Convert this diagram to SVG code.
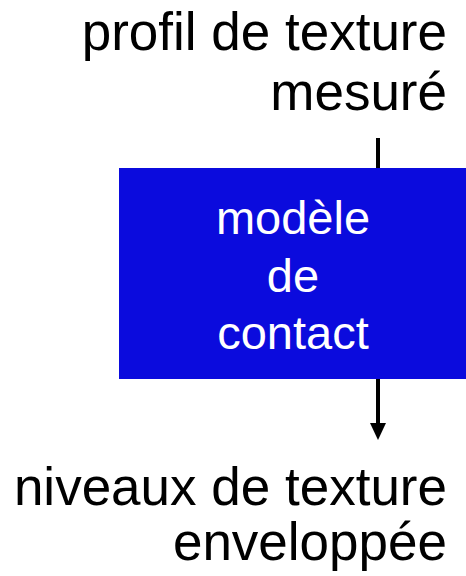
<svg xmlns="http://www.w3.org/2000/svg" width="466" height="576" viewBox="0 0 466 576">
<defs>
<style>
.t{font-family:"Liberation Sans",Arial,sans-serif;font-size:53px;fill:#000}
.b{font-family:"Liberation Sans",Arial,sans-serif;font-size:47px;fill:#fff;text-anchor:middle}
.c{stroke:#000;stroke-width:4;fill:none}
</style>
</defs>
<rect width="466" height="576" fill="#fff"/>
<g id="input">
<text class="t" x="447" y="50" text-anchor="end">profil de texture</text>
<text class="t" x="447" y="110" text-anchor="end">mesuré</text>
</g>
<g id="model">
<rect x="119" y="168" width="347" height="211" fill="#0b0bdd"/>
<text class="b" x="293" y="234">modèle</text>
<text class="b" x="293" y="292">de</text>
<text class="b" x="293" y="349">contact</text>
</g>
<g id="output">
<text class="t" x="447" y="505" text-anchor="end">niveaux de texture</text>
<text class="t" x="447" y="560" text-anchor="end">enveloppée</text>
</g>
<g id="connectors">
<line class="c" x1="378" y1="138" x2="378" y2="168"/>
<line class="c" x1="378" y1="379" x2="378" y2="424"/>
<path d="M370,423 L386,423 L378,440 Z" fill="#000"/>
</g>
</svg>
